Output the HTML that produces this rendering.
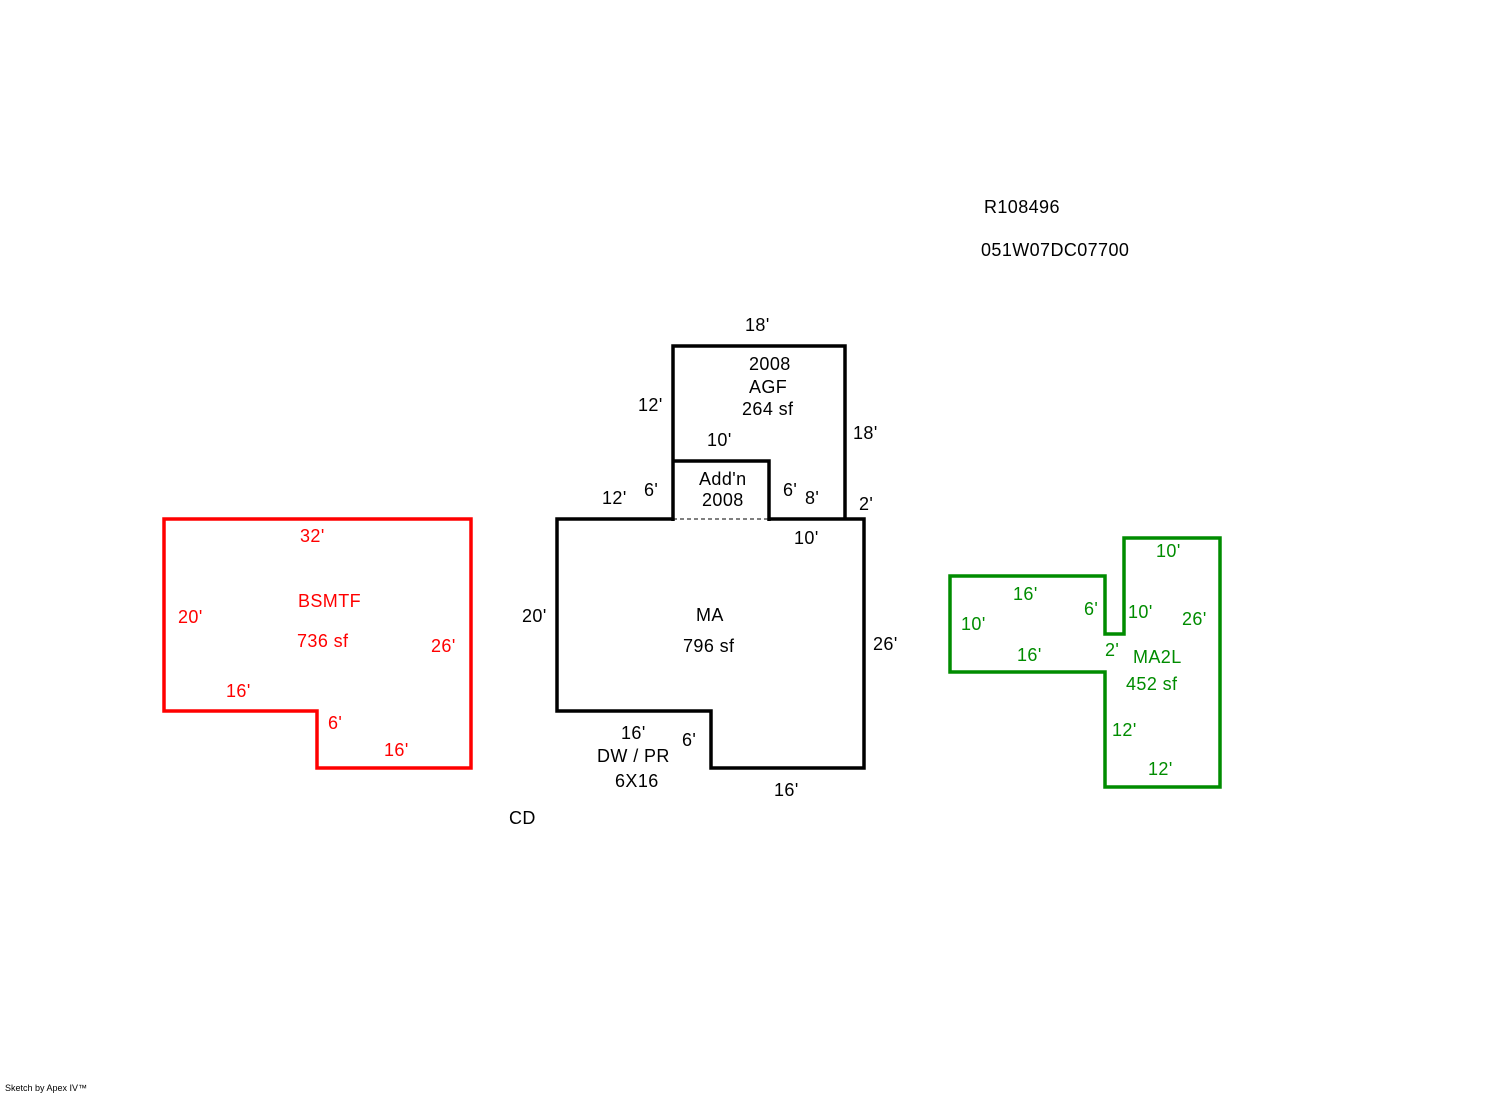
<!DOCTYPE html>
<html><head><meta charset="utf-8"><style>
html,body{margin:0;padding:0;background:#fff}
svg{display:block}
text{font-family:"Liberation Sans",Arial,sans-serif;font-size:18px;letter-spacing:0.4px}
</style></head><body>
<svg width="1492" height="1094" viewBox="0 0 1492 1094" xmlns="http://www.w3.org/2000/svg">
<g fill="none" stroke-width="3.5" stroke-linejoin="miter">
<polygon stroke="#ff0000" points="164,519 471,519 471,768 317,768 317,711 164,711"/>
<path stroke="#000" d="M673,519 L557,519 L557,711 L711,711 L711,768 L864,768 L864,519 L769,519"/>
<polyline stroke="#000" points="673,521 673,346 845,346 845,519"/>
<polyline stroke="#000" points="673,461 769,461 769,521"/>
<polygon stroke="#008c00" points="950,576 1105,576 1105,634 1124,634 1124,538 1220,538 1220,787 1105,787 1105,672 950,672"/>
</g>
<line x1="673" y1="519" x2="769" y2="519" stroke="#000" stroke-width="1" stroke-dasharray="4,3"/>
<g fill="#000">
<text x="984" y="213">R108496</text>
<text x="981" y="256">051W07DC07700</text>
<text x="745" y="331">18'</text>
<text x="749" y="370">2008</text>
<text x="749" y="393">AGF</text>
<text x="742" y="415">264 sf</text>
<text x="638" y="411">12'</text>
<text x="853" y="439">18'</text>
<text x="707" y="446">10'</text>
<text x="699" y="485">Add'n</text>
<text x="702" y="506">2008</text>
<text x="602" y="504">12'</text>
<text x="644" y="496">6'</text>
<text x="783" y="496">6'</text>
<text x="805" y="504">8'</text>
<text x="859" y="510">2'</text>
<text x="794" y="544">10'</text>
<text x="522" y="622">20'</text>
<text x="696" y="621">MA</text>
<text x="683" y="652">796 sf</text>
<text x="873" y="650">26'</text>
<text x="621" y="739">16'</text>
<text x="682" y="746">6'</text>
<text x="597" y="762">DW / PR</text>
<text x="615" y="787">6X16</text>
<text x="774" y="796">16'</text>
<text x="509" y="824">CD</text>
</g>
<g fill="#ff0000">
<text x="300" y="542">32'</text>
<text x="178" y="623">20'</text>
<text x="298" y="607">BSMTF</text>
<text x="297" y="647">736 sf</text>
<text x="431" y="652">26'</text>
<text x="226" y="697">16'</text>
<text x="328" y="729">6'</text>
<text x="384" y="756">16'</text>
</g>
<g fill="#008c00">
<text x="1156" y="557">10'</text>
<text x="1013" y="600">16'</text>
<text x="1084" y="615">6'</text>
<text x="1128" y="618">10'</text>
<text x="961" y="630">10'</text>
<text x="1182" y="625">26'</text>
<text x="1017" y="661">16'</text>
<text x="1105" y="656">2'</text>
<text x="1133" y="663">MA2L</text>
<text x="1126" y="690">452 sf</text>
<text x="1112" y="736">12'</text>
<text x="1148" y="775">12'</text>
</g>
<text x="5" y="1091" style="font-size:9px;letter-spacing:0">Sketch by Apex IV™</text>
</svg>
</body></html>
